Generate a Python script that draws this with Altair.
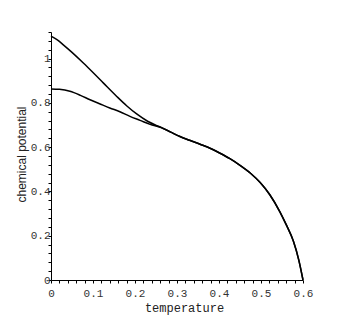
import altair as alt
import pandas as pd

# upper branch (before merging)
T_upper = [0.0, 0.015, 0.03, 0.05, 0.077, 0.1, 0.125, 0.156, 0.18, 0.204, 0.23, 0.252]
mu_upper = [1.101, 1.084, 1.061, 1.028, 0.980, 0.937, 0.889, 0.830, 0.787, 0.750, 0.717, 0.697]

# lower branch (before merging)
T_lower = [0.0, 0.02, 0.045, 0.07, 0.093, 0.117, 0.14, 0.164, 0.188, 0.212, 0.236]
mu_lower = [0.863, 0.861, 0.852, 0.834, 0.814, 0.795, 0.777, 0.760, 0.739, 0.721, 0.703]

# common part after the two branches merge
T_common = [0.262, 0.285, 0.307, 0.33, 0.355, 0.38, 0.402, 0.425, 0.45, 0.475, 0.498,
            0.521, 0.545, 0.56, 0.577, 0.59, 0.6]
mu_common = [0.689, 0.668, 0.648, 0.631, 0.613, 0.594, 0.573, 0.549, 0.518, 0.482, 0.440,
             0.385, 0.308, 0.250, 0.176, 0.090, 0.0]

rows = []
for t, m in zip(T_upper + T_common, mu_upper + mu_common):
    rows.append({"T": t, "mu": m, "branch": "upper"})
for t, m in zip(T_lower + T_common, mu_lower + mu_common):
    rows.append({"T": t, "mu": m, "branch": "lower"})
df = pd.DataFrame(rows)

x_ticks = [round(i * 0.02, 2) for i in range(31)]
y_ticks = [round(i * 0.04, 2) for i in range(29)]

x_axis = alt.Axis(
    values=x_ticks,
    labelExpr="(abs(datum.value*10 - round(datum.value*10)) < 0.001) ? toString(round(datum.value*10)/10) : ''",
    grid=False, domainColor="black", tickColor="black", tickSize=3,
    labelFont="Liberation Mono", labelFontSize=11, labelColor="#333",
    labelPadding=4, labelOverlap=False, labelFlush=False,
    title="temperature", titleFont="Liberation Mono", titleFontSize=12,
    titleFontWeight="normal", titleColor="#222",
    titleX=133, titleY=31, titleBaseline="alphabetic", titleAlign="center",
)
y_axis = alt.Axis(
    values=y_ticks,
    labelExpr="(abs(datum.value*5 - round(datum.value*5)) < 0.001) ? toString(round(datum.value*10)/10) : ''",
    grid=False, domainColor="black", tickColor="black", tickSize=3,
    labelFont="Liberation Mono", labelFontSize=11, labelColor="#333",
    labelPadding=-2, labelOverlap=False, labelFlush=False,
    title="chemical potential", titleFont="Liberation Sans", titleFontSize=12,
    titleFontWeight="normal", titleColor="#222",
    titleX=-30, titleY=122, titleAngle=270, titleBaseline="middle", titleAlign="center",
)

chart = alt.Chart(df).mark_line(color="black", strokeWidth=1.5, interpolate="monotone").encode(
    x=alt.X("T:Q", scale=alt.Scale(domain=[0, 0.6], nice=False, zero=False), axis=x_axis),
    y=alt.Y("mu:Q", scale=alt.Scale(domain=[0, 1.12], nice=False, zero=False), axis=y_axis),
    detail="branch:N",
    order="T:Q",
).properties(
    width=252, height=248,
    autosize=alt.AutoSizeParams(type="none"),
    padding={"left": 43, "top": 24, "right": 40, "bottom": 35},
).configure_view(stroke=None)

chart.save("out.html", embed_options={"renderer": "svg", "actions": False})
